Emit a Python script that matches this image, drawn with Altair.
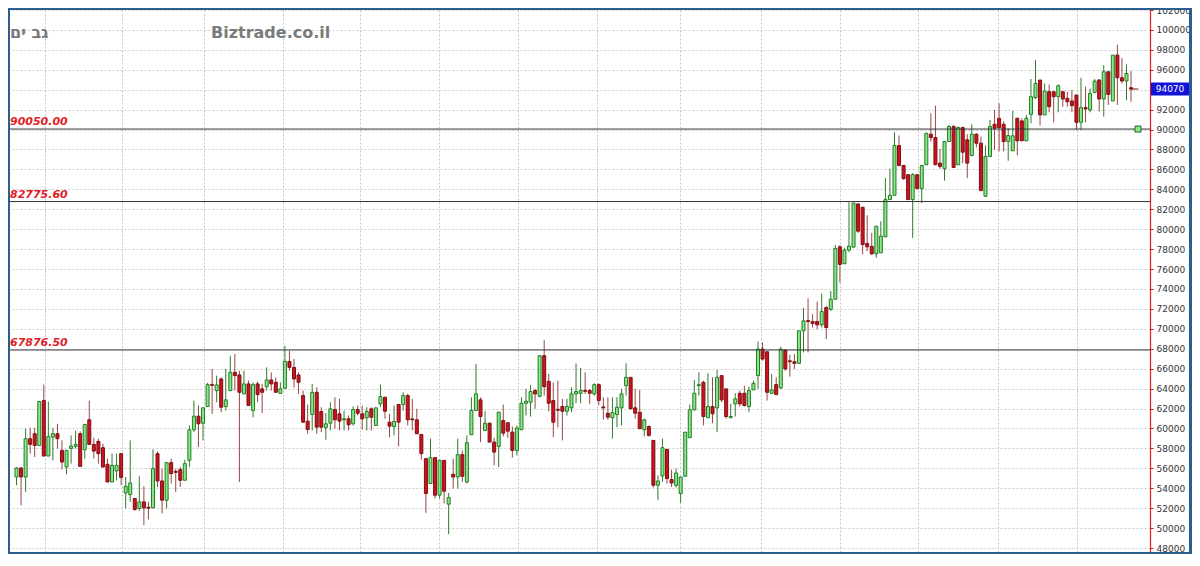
import altair as alt
import pandas as pd

# ---------------- data ----------------
open_ = [55130, 56030, 55130, 58970, 59470, 58300, 62800, 57230, 59130, 59470,
         57800, 56130, 58000, 58200, 59470, 57870, 60870, 58400, 58700, 58070,
         56400, 54630, 55730, 57470, 53530, 53370, 52970, 51970, 52630, 52030,
         52030, 57470, 54730, 52800, 56570, 55630, 55870, 54800, 56800, 59870,
         61230, 60530, 62200, 64370, 63800, 64970, 62200, 63800, 65630, 65370,
         63470, 64470, 61800, 64470, 63970, 64200, 64870, 64630, 63530, 64030,
         66730, 66130, 65370, 63300, 60730, 61400, 63630, 61700, 60070, 60530,
         61900, 61470, 60870, 60970, 60470, 61900, 61470, 61070, 61970, 60300,
         62470, 63130, 60630, 60200, 62400, 62400, 63300, 60900, 60870, 59400,
         56970, 54470, 57070, 53300, 56800, 52400, 55400, 55130, 57370, 54630,
         59370, 61800, 62870, 59800, 60530, 58630, 58200, 60800, 60570, 59630,
         57800, 59870, 62530, 62630, 63800, 63230, 67300, 64730, 62800, 61870,
         62200, 61730, 62070, 63470, 63530, 63750, 63800, 63470, 64400, 62100,
         61530, 61070, 61400, 62070, 64300, 65130, 62070, 61630, 59870, 60200,
         58800, 54300, 55230, 57900, 54870, 54300, 53470, 55200, 59070, 61870,
         64300, 64630, 61070, 62200, 62070, 65300, 63970, 61070, 62470, 63530,
         63530, 62200, 63870, 65300, 67970, 67700, 63530, 64400, 64070, 67870,
         66730, 66700, 66530, 69800, 70800, 70730, 70730, 70400, 72130, 71970,
         72970, 78230, 76530, 77900, 78200, 82530, 82200, 78570, 78270, 77530,
         77630, 79230, 82970, 83400, 88400, 86400, 85470, 82970, 85470, 84070,
         86470, 89530, 89200, 86630, 86070, 88800, 90300, 86470, 90200, 88970,
         87400, 89530, 88630, 83300, 87300, 90530, 91130, 90530, 88800, 87870,
         91130, 90870, 88870, 91530, 93200, 94970, 91470, 93800, 93800, 93300,
         93800, 93130, 92870, 93470, 90730, 92200, 91970, 93730, 94970, 93070,
         95800, 92870, 97470, 95200, 94870, 94200]
high = [56130, 56130, 59970, 60070, 60070, 62700, 64400, 62700, 60070, 60470,
        58800, 57800, 59300, 59800, 59700, 60400, 62800, 59070, 58970, 58470,
        56970, 57470, 57470, 57470, 55130, 58800, 52970, 55200, 54200, 52630,
        57900, 57700, 55970, 56570, 56970, 55970, 56130, 56870, 60300, 62800,
        62300, 62070, 64570, 65970, 65300, 65130, 65970, 67300, 67470, 65800,
        65800, 64800, 64630, 64700, 64470, 66130, 65630, 65130, 64630, 68300,
        67800, 66970, 65630, 63800, 62400, 64470, 64130, 62130, 61530, 62630,
        63130, 62970, 61800, 61300, 62200, 62300, 62300, 62130, 62130, 62070,
        64400, 63200, 61470, 62300, 62470, 63630, 63470, 62970, 61970, 59400,
        56970, 58970, 57070, 56800, 56800, 53530, 56970, 58970, 57800, 59300,
        63130, 66470, 63130, 61730, 60530, 59070, 61630, 62400, 60630, 60200,
        60300, 63130, 63970, 64370, 63970, 67300, 68870, 65470, 64630, 64800,
        62970, 62970, 64130, 66530, 66070, 65630, 63970, 64530, 64530, 63130,
        63130, 63130, 63130, 63970, 66530, 65130, 63970, 63870, 60970, 60300,
        58800, 55300, 58970, 57900, 55870, 55970, 55130, 59630, 62400, 64870,
        65630, 64800, 65530, 65130, 65870, 65300, 63970, 62470, 63530, 63800,
        64300, 64200, 64800, 68730, 68630, 67700, 65470, 65130, 68200, 67870,
        67400, 67470, 69800, 72070, 73070, 71470, 72730, 73530, 72300, 73800,
        78400, 78400, 78130, 82700, 82630, 82630, 82200, 81400, 79630, 80300,
        80800, 85130, 86070, 89730, 89400, 86400, 85470, 85630, 85470, 86400,
        89630, 91630, 92400, 88070, 88800, 90470, 90470, 90300, 90300, 89530,
        90530, 89630, 89300, 88400, 90970, 91970, 92630, 90800, 90130, 91870,
        91200, 91130, 91470, 95070, 96970, 94970, 94630, 94530, 93800, 94530,
        93800, 93800, 93970, 93470, 95200, 94300, 94130, 95070, 95070, 96470,
        95800, 97470, 98530, 97200, 96530, 95870]
low = [54300, 52300, 53630, 57470, 57130, 58300, 57230, 57230, 56800, 57970,
       55900, 55400, 56470, 57970, 56200, 56970, 58400, 56970, 56470, 56070,
       54630, 54630, 54800, 54300, 51970, 52630, 51730, 51730, 50300, 50870,
       52030, 54130, 51470, 51970, 54470, 53630, 54130, 54800, 56130, 59630,
       58130, 58800, 62200, 61470, 62630, 61630, 61800, 63800, 63800, 54630,
       63470, 62300, 61130, 62630, 61530, 63800, 63800, 63630, 63530, 64030,
       65800, 64130, 63470, 60630, 59470, 59800, 59470, 59630, 58870, 59800,
       59970, 59800, 59800, 59800, 60300, 61300, 59870, 59800, 59800, 60300,
       62130, 60970, 59130, 59300, 58200, 61800, 60300, 59800, 59470, 56870,
       51530, 54470, 52970, 52970, 52470, 49400, 53970, 53970, 54630, 54470,
       59370, 61800, 58630, 59800, 58630, 56300, 56130, 59200, 59070, 57070,
       57300, 59870, 61300, 61200, 61970, 63130, 63300, 61700, 59130, 60130,
       58800, 61300, 61630, 62530, 62530, 63470, 62470, 63300, 62300, 60870,
       60870, 58970, 60130, 60300, 63300, 61970, 60970, 59970, 59200, 59200,
       54070, 52800, 54630, 54470, 54130, 54070, 52530, 55200, 59070, 61800,
       63300, 60300, 61070, 60530, 59630, 62630, 60970, 61070, 61200, 62200,
       62200, 61630, 63870, 63970, 66800, 62800, 63530, 63400, 63970, 65800,
       65200, 65970, 66530, 67630, 67630, 70130, 69970, 70130, 68970, 71800,
       72970, 74630, 76530, 77700, 78200, 79630, 77470, 77800, 77400, 77130,
       77630, 79230, 82970, 83400, 86300, 84970, 82970, 79130, 84070, 82630,
       86470, 88800, 86470, 86070, 84870, 88800, 86200, 86470, 86630, 85130,
       87300, 88200, 83870, 83300, 87300, 87970, 87800, 87800, 86870, 87870,
       87400, 88870, 88870, 90630, 93070, 90400, 91470, 91730, 90730, 91730,
       92300, 92300, 91730, 89970, 89970, 90730, 91730, 93630, 91800, 91300,
       92470, 92870, 92470, 94630, 92970, 92800]
close = [56030, 55130, 58970, 58400, 58300, 62700, 57230, 59200, 59470, 58970,
         56630, 57800, 58230, 58400, 56200, 60400, 58400, 57730, 57470, 56130,
         54630, 56300, 56300, 55070, 54200, 54530, 51870, 52630, 52030, 52000,
         55970, 54730, 52800, 56570, 55470, 55600, 54800, 56470, 59870, 61230,
         60470, 62070, 64400, 64330, 64370, 62130, 62870, 65630, 65300, 63630,
         64470, 62300, 64400, 63400, 63630, 64870, 64470, 63630, 63970, 66730,
         66130, 64970, 64630, 60630, 59900, 63630, 60130, 60130, 60470, 61970,
         60870, 60730, 60970, 60370, 61900, 61530, 60970, 61700, 61130, 62070,
         63200, 61730, 60230, 60700, 60630, 63300, 60870, 60870, 59470, 57470,
         53470, 57070, 53300, 56800, 53700, 53070, 55130, 57370, 55200, 58570,
         61800, 63470, 61200, 60530, 58630, 57630, 61630, 59530, 59730, 57800,
         60030, 62530, 62730, 63700, 63470, 67300, 64200, 62530, 60630, 61830,
         61730, 62200, 63470, 63700, 63800, 63730, 63530, 64400, 62800, 62070,
         61130, 61600, 62130, 63470, 65130, 61970, 61530, 59970, 60870, 59300,
         54300, 54730, 58070, 54970, 54530, 55530, 55130, 59630, 61870, 63530,
         64330, 61200, 62200, 61470, 65130, 62870, 61200, 61200, 62970, 62470,
         62300, 63800, 64530, 67970, 66970, 63630, 63870, 63400, 67970, 65970,
         66700, 66530, 69800, 70800, 70730, 70530, 70400, 71730, 70130, 72970,
         78070, 76470, 77900, 78300, 82630, 79800, 78470, 78230, 77530, 80300,
         79300, 82970, 83400, 88400, 86400, 85070, 82970, 85470, 84070, 86400,
         89630, 89200, 86470, 86300, 88800, 90300, 86200, 90200, 87730, 86630,
         89530, 88630, 83870, 87300, 90300, 90130, 90200, 88800, 89400, 89370,
         88870, 88870, 91130, 93300, 94630, 91470, 93870, 92300, 93300, 94400,
         93070, 92800, 92400, 90730, 92200, 92070, 93630, 94870, 93070, 95800,
         93530, 97470, 95200, 94870, 95630, 94070]

levels = [90050.00, 82775.60, 67876.50]
level_labels = ["90050.00", "82775.60", "67876.50"]
y_ticks = [48000, 50000, 52000, 54000, 56000, 58000, 60000, 62000, 64000,
           66000, 68000, 70000, 72000, 74000, 76000, 78000, 80000, 82000,
           84000, 86000, 88000, 90000, 92000, 94000, 96000, 98000, 100000,
           102000]
month_lines = [6.2, 23.2, 41.3, 58.5, 75.5, 92.9, 110.3, 127.7, 145.8,
               163.6, 181.0, 198.2, 215.8, 233.2]
last_price = 94070
title_he = "גב ים"
watermark = "Biztrade.co.il"

# ---------------- layout ----------------
W, H = 1140, 542
PAD = {"left": 2, "top": 2, "right": 42, "bottom": 2}
BLUE = "#2c5d8f"

n = len(close)
df = pd.DataFrame({"i": list(range(n)), "open": open_, "high": high,
                   "low": low, "close": close})
df["dir"] = ["up" if c >= o else "down" for o, c in zip(open_, close)]
df["b0"] = df[["open", "close"]].min(axis=1)
df["b1"] = df[["open", "close"]].max(axis=1)
df.loc[df["b1"] - df["b0"] < 90, "b1"] = df["b0"] + 90

lv = pd.DataFrame({"level": levels, "label": level_labels})

xs = alt.Scale(domain=[-0.33, 248.07], nice=False, zero=False)
ys = alt.Scale(domain=[47600, 102000], nice=False, zero=False)
x_axis = alt.Axis(values=month_lines, labels=False, ticks=False, domain=False,
                  grid=True, gridColor="#c4c4c4", gridDash=[2, 2], title=None)
y_axis = alt.Axis(orient="right", values=y_ticks, grid=True, gridColor="#cccccc",
                  gridDash=[2, 2], domainColor="#e01818", domainWidth=1.2,
                  tickColor="#e01818", tickSize=3, labelFont="DejaVu Sans",
                  labelFontSize=9, labelColor="#333333", labelPadding=3,
                  format="d", title=None)

fill_sc = alt.Scale(domain=["up", "down"], range=["#8ee38e", "#cc1122"])
stroke_sc = alt.Scale(domain=["up", "down"], range=["#1e7f1e", "#7d1010"])
wick_sc = alt.Scale(domain=["up", "down"], range=["#2f7a2f", "#9a4545"])

base = alt.Chart(df)

wicks = base.mark_rule(strokeWidth=1).encode(
    x=alt.X("i:Q", scale=xs, axis=x_axis),
    y=alt.Y("low:Q", scale=ys, axis=y_axis),
    y2="high:Q",
    color=alt.Color("dir:N", scale=wick_sc, legend=None),
)

bodies = base.mark_bar(size=3, strokeWidth=1).encode(
    x=alt.X("i:Q", scale=xs, axis=x_axis),
    y=alt.Y("b0:Q", scale=ys, axis=y_axis),
    y2="b1:Q",
    fill=alt.Fill("dir:N", scale=fill_sc, legend=None),
    stroke=alt.Stroke("dir:N", scale=stroke_sc, legend=None),
)

level_rules = alt.Chart(lv).mark_rule(color="#333333", strokeWidth=1).encode(
    y=alt.Y("level:Q", scale=ys, axis=y_axis)
)
level_text = alt.Chart(lv).mark_text(
    align="left", baseline="bottom", dy=-2, font="DejaVu Sans", fontSize=11,
    fontStyle="italic", fontWeight="bold", color="#e31b23"
).encode(x=alt.value(0), y=alt.Y("level:Q", scale=ys, axis=y_axis),
         text="label:N")

one = pd.DataFrame({"p": [last_price], "t": [str(last_price)], "lv": [levels[0]]})
price_box = alt.Chart(one).transform_calculate(
    p0="datum.p - 650", p1="datum.p + 650"
).mark_rect(color="#1212d8").encode(
    x=alt.value(1141), x2=alt.value(1179),
    y=alt.Y("p0:Q", scale=ys, axis=y_axis), y2="p1:Q")
price_text = alt.Chart(one).mark_text(
    align="center", baseline="middle", font="DejaVu Sans", fontSize=9,
    color="white").encode(
    x=alt.value(1160), y=alt.Y("p:Q", scale=ys, axis=y_axis), text="t:N")
price_dash = alt.Chart(one).mark_rule(color="#7d1010", strokeWidth=1).encode(
    x=alt.X("a:Q", scale=xs, axis=x_axis), x2="b:Q",
    y=alt.Y("p:Q", scale=ys, axis=y_axis)
).transform_calculate(a="245", b="246.6")
handle = alt.Chart(one).mark_square(size=36, fill="#8ee38e", stroke="#1e6a1e",
                                    strokeWidth=1, opacity=1).encode(
    x=alt.value(1128), y=alt.Y("lv:Q", scale=ys, axis=y_axis))

txt = pd.DataFrame({"a": [title_he], "b": [watermark]})
t_he = alt.Chart(txt).mark_text(align="left", baseline="middle",
                                font="DejaVu Sans", fontSize=16,
                                fontWeight="bold", color="#777777").encode(
    x=alt.value(0), y=alt.value(23), text="a:N")
t_wm = alt.Chart(txt).mark_text(align="left", baseline="middle",
                                font="DejaVu Sans", fontSize=16,
                                fontWeight="bold", color="#7b7b7b").encode(
    x=alt.value(201), y=alt.value(23), text="b:N")

frame = pd.DataFrame({"k": [0]})
fr = alt.Chart(frame).mark_rect(color=BLUE)
f_top = fr.encode(x=alt.value(-2), x2=alt.value(W + 42), y=alt.value(-2), y2=alt.value(0))
f_bot = fr.encode(x=alt.value(-2), x2=alt.value(W + 42), y=alt.value(H), y2=alt.value(H + 2))
f_left = fr.encode(x=alt.value(-2), x2=alt.value(0), y=alt.value(-2), y2=alt.value(H + 2))
f_right = fr.encode(x=alt.value(W + 39), x2=alt.value(W + 42), y=alt.value(-2), y2=alt.value(H + 2))

chart = alt.layer(
    wicks, bodies, level_rules, level_text, price_dash, handle,
    price_box, price_text, t_he, t_wm, f_top, f_bot, f_left, f_right
).properties(
    width=W, height=H, padding=PAD, background="white",
    autosize=alt.AutoSizeParams(type="none"),
).configure_view(stroke=None)

chart.save("out.html", embed_options={"renderer": "svg", "actions": False})
